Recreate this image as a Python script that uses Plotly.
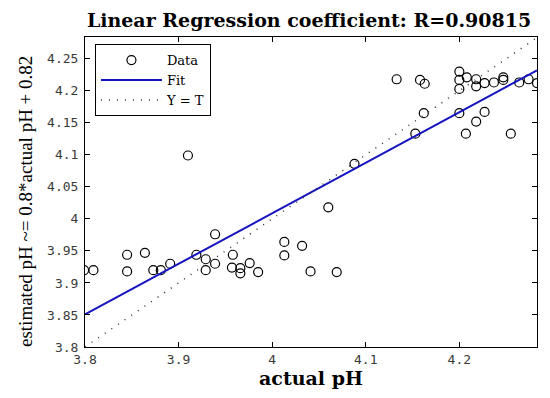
import plotly.graph_objects as go

actual_ph = [3.799, 3.809, 3.845, 3.845, 3.864, 3.873, 3.881, 3.891, 3.910, 3.919,
             3.929, 3.929, 3.939, 3.939, 3.958, 3.957, 3.966, 3.966, 3.976, 3.985,
             4.013, 4.013, 4.032, 4.041, 4.060, 4.069, 4.088, 4.133, 4.153, 4.158,
             4.162, 4.163, 4.200, 4.200, 4.200, 4.200, 4.208, 4.207, 4.218, 4.218,
             4.218, 4.227, 4.227, 4.237, 4.247, 4.247, 4.255, 4.264, 4.274, 4.283]
estimated_ph = [3.920, 3.920, 3.944, 3.918, 3.947, 3.920, 3.920, 3.930, 4.099, 3.944,
                3.937, 3.920, 3.976, 3.930, 3.944, 3.924, 3.923, 3.915, 3.931, 3.917,
                3.964, 3.943, 3.958, 3.918, 4.018, 3.917, 4.086, 4.218, 4.133, 4.217,
                4.165, 4.211, 4.230, 4.217, 4.203, 4.165, 4.221, 4.133, 4.218, 4.207,
                4.152, 4.167, 4.212, 4.213, 4.221, 4.217, 4.133, 4.213, 4.218, 4.212]

fit_x = [3.8, 4.283]
fit_y = [3.851, 4.232]
ident_x = [3.8, 4.284]
ident_y = [3.8, 4.284]

x_ticks = [3.8, 3.9, 4.0, 4.1, 4.2]
x_tick_labels = ["3.8", "3.9", "4", "4.1", "4.2"]
y_ticks = [3.8, 3.85, 3.9, 3.95, 4.0, 4.05, 4.1, 4.15, 4.2, 4.25]
y_tick_labels = ["3.8", "3.85", "3.9", "3.95", "4", "4.05", "4.1", "4.15", "4.2", "4.25"]

serif = "Liberation Serif, Times New Roman, serif"
wide_serif = "DejaVu Serif, serif"
tickfont = dict(family="DejaVu Sans Mono, monospace", size=13, color="#3a3a3a")

# page body has an 8px default margin, so the figure is sized to fit inside it
W, H = 534, 382

fig = go.Figure()
fig.add_trace(go.Scatter(
    x=actual_ph, y=estimated_ph, mode="markers", name="Data",
    marker=dict(symbol="circle-open", size=9, color="black", line=dict(width=1.2, color="black")),
))
fig.add_trace(go.Scatter(
    x=fit_x, y=fit_y, mode="lines", name="Fit",
    line=dict(color="#1414C0", width=2),
))
fig.add_trace(go.Scatter(
    x=ident_x, y=ident_y, mode="lines", name="Y = T",
    line=dict(color="#333333", width=1.5, dash="1px,7px"),
))

fig.update_layout(
    width=W, height=H,
    margin=dict(l=77, r=5, t=29, b=43),
    paper_bgcolor="white", plot_bgcolor="white",
    showlegend=True,
    title=dict(text="<b>Linear Regression coefficient: R=0.90815</b>",
               font=dict(family=wide_serif, size=19, color="black"),
               x=0.5637, xanchor="center", y=1 - 12 / H, yanchor="middle"),
    legend=dict(x=0.022, y=0.977, xanchor="left", yanchor="top",
                bgcolor="white", bordercolor="black", borderwidth=1,
                font=dict(family=wide_serif, size=13, color="black"),
                tracegroupgap=0, itemwidth=61),
    annotations=[dict(
        text="estimated pH ~= 0.8*actual pH + 0.82", textangle=-90,
        xref="paper", yref="paper", x=(17 - 77) / 452, y=(339 - 194) / 310,
        xanchor="center", yanchor="middle", showarrow=False,
        font=dict(family=serif, size=19, color="black"),
    )],
)
fig.update_xaxes(
    range=[3.8, 4.283], tickmode="array", tickvals=x_ticks, ticktext=x_tick_labels,
    ticks="inside", ticklen=5, tickcolor="black", showgrid=False, zeroline=False,
    showline=True, linecolor="black", linewidth=1, mirror="ticks",
    tickfont=tickfont,
    title=dict(text="<b>actual pH</b>", font=dict(family=wide_serif, size=19, color="black"), standoff=4),
)
fig.update_yaxes(
    range=[3.8, 4.284], tickmode="array", tickvals=y_ticks, ticktext=y_tick_labels,
    ticks="inside", ticklen=5, tickcolor="black", showgrid=False, zeroline=False,
    showline=True, linecolor="black", linewidth=1, mirror="ticks",
    tickfont=tickfont, ticklabelstandoff=3,
)

fig.write_html("out.html")
